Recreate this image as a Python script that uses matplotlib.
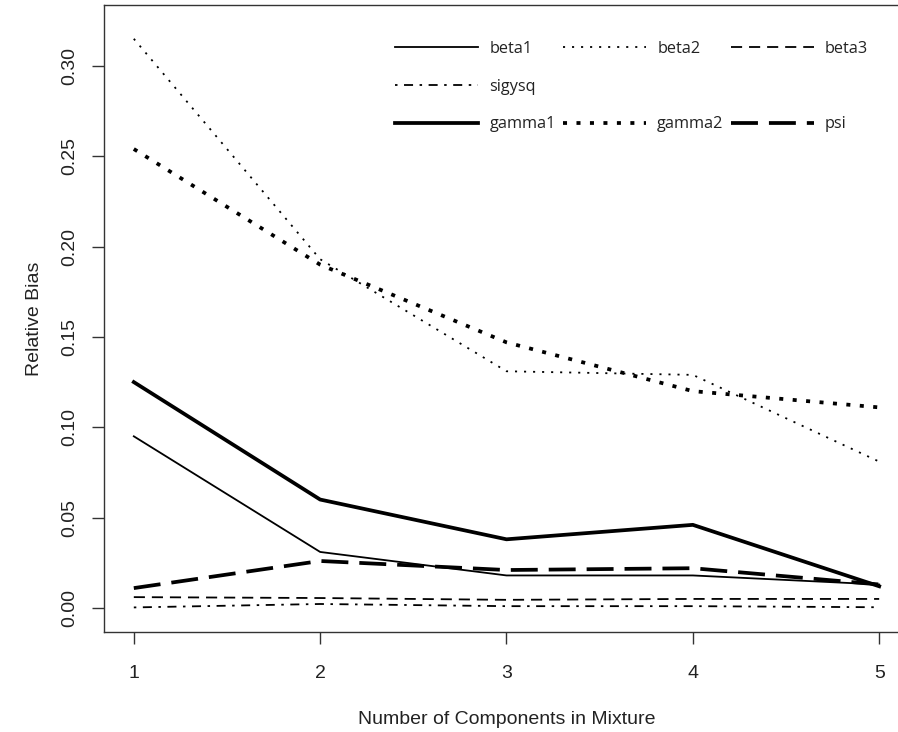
import matplotlib
matplotlib.use("Agg")
import matplotlib.pyplot as plt
from matplotlib.lines import Line2D

# Relative bias by number of mixture components
componentes = [1, 2, 3, 4, 5]
beta1 = [0.095, 0.031, 0.018, 0.018, 0.013]
beta2 = [0.315, 0.193, 0.131, 0.129, 0.081]
beta3 = [0.006, 0.0055, 0.0045, 0.005, 0.005]
sigysq = [0.0003, 0.0022, 0.001, 0.001, 0.0004]
gamma1 = [0.125, 0.060, 0.038, 0.046, 0.012]
gamma2 = [0.254, 0.190, 0.147, 0.120, 0.111]
psi = [0.011, 0.026, 0.021, 0.022, 0.013]

plt.rcParams['lines.scale_dashes'] = False
plt.rcParams['font.family'] = ['Liberation Sans', 'DejaVu Sans']

W, H = 898, 732
fig = plt.figure(figsize=(W / 100, H / 100), dpi=100)
# plot region runs past the right edge of the picture, as in the reference
ax = fig.add_axes([104 / W, 1 - 632 / H, (909 - 104) / W, (632 - 5) / H])

thin, thick = 1.3, 2.7
series = [
    (beta1, 'beta1', thin, None),
    (beta2, 'beta2', thin, (1.5, 5.0)),
    (beta3, 'beta3', thin, (8.0, 5.0)),
    (sigysq, 'sigysq', thin, (1.8, 4.7, 6.5, 4.7)),
    (gamma1, 'gamma1', thick, None),
    (gamma2, 'gamma2', thick, (2.9, 6.8)),
    (psi, 'psi', thick, (19.4, 7.9)),
]
handles = {}
for valores, nombre, lw, dashes in series:
    linea, = ax.plot(componentes, valores, color='black', lw=lw, label=nombre,
                     solid_joinstyle='round')
    if dashes is not None:
        linea.set_dashes(dashes)
    handles[nombre] = linea

ax.set_xlim(0.84, 5.16)
ax.set_ylim(-0.0133, 0.3337)
ax.set_xticks(componentes)
ax.set_yticks([0.0, 0.05, 0.10, 0.15, 0.20, 0.25, 0.30])
ax.set_yticklabels(['0.00', '0.05', '0.10', '0.15', '0.20', '0.25', '0.30'],
                   rotation=90, va='center')
ax.tick_params(axis='both', length=8.6, width=1.0, color='#333333',
               labelsize=14, labelcolor='#222222', pad=10)
ax.tick_params(axis='x', pad=15)
for s in ax.spines.values():
    s.set_color('#333333')
    s.set_linewidth(1.0)

ax.set_xlabel('Number of Components in Mixture', fontsize=14, color='#222222', labelpad=21)
ax.set_ylabel('Relative Bias', fontsize=14, color='#222222', labelpad=13)

# legend: 3 columns, filled column by column, with two empty slots
vacio = Line2D([], [], linestyle='none')
orden = [handles['beta1'], handles['sigysq'], handles['gamma1'],
         handles['beta2'], vacio, handles['gamma2'],
         handles['beta3'], vacio, handles['psi']]
etiquetas = ['beta1', 'sigysq', 'gamma1', 'beta2', '', 'gamma2', 'beta3', '', 'psi']
leg = ax.legend(orden, etiquetas, ncol=3, loc='upper left',
                bbox_to_anchor=(395 / W, 1 - 41 / H), bbox_transform=fig.transFigure,
                frameon=False, borderpad=0, borderaxespad=0,
                handlelength=5.1, handletextpad=0.7, columnspacing=0.45,
                labelspacing=1.33, prop={'family': ['Open Sans', 'DejaVu Sans'], 'size': 11.7})
for t in leg.get_texts():
    t.set_color('#222222')

plt.savefig('out.png', dpi=100)
